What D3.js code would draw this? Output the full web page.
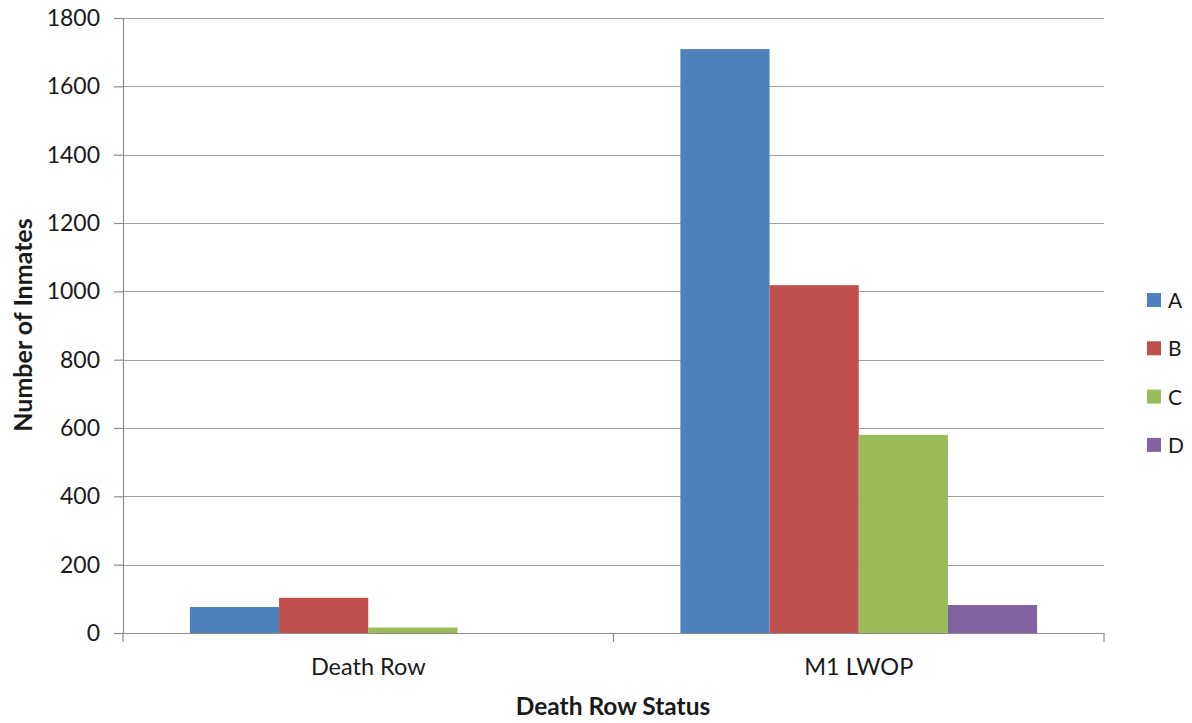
<!DOCTYPE html>
<html>
<head>
<meta charset="utf-8">
<script src="https://cdn.jsdelivr.net/npm/d3@7"></script>
<style>
  body { margin: 0; background: #fff; }
  text { font-family: Lato, "Open Sans", sans-serif; fill: #1a1a1a; }
</style>
</head>
<body>
<div id="chart"></div>
<script>
// data
var categories = ["Death Row", "M1 LWOP"];
var seriesNames = ["A", "B", "C", "D"];
var seriesColors = ["#4f81bd", "#c0504d", "#9bbb59", "#8064a2"];
var valuesA = [76, 1709];
var valuesB = [103, 1018];
var valuesC = [16, 580];
var valuesD = [0, 82];
var yTicks = [0, 200, 400, 600, 800, 1000, 1200, 1400, 1600, 1800];

var seriesValues = [valuesA, valuesB, valuesC, valuesD];

// dimensions
var margin = {top: 18, right: 88, bottom: 90, left: 123},
    width = 1192,
    height = 723,
    innerW = 1104 - margin.left,
    innerH = 633 - margin.top;

var svg = d3.select("#chart")
  .append("svg")
    .attr("width", width)
    .attr("height", height);

var g = svg.append("g")
    .attr("transform", `translate(${margin.left},${margin.top})`);

// scales
var x = d3.scaleBand()
  .domain(categories)
  .range([0, innerW])
  .paddingInner(0)
  .paddingOuter(0);

// 150% gap width: 4 bars + 1.5 bar of gap per category
var barW = x.bandwidth() / 5.5;
var x1 = d3.scaleBand()
  .domain(seriesNames)
  .range([barW * 0.75, barW * 4.75]);

var y = d3.scaleLinear()
  .domain([0, 1800])
  .range([innerH, 0]);

// gridlines
g.append("g")
  .selectAll("line")
  .data(yTicks)
  .join("line")
    .attr("x1", 0)
    .attr("x2", innerW)
    .attr("y1", d => Math.round(y(d)) + 0.5)
    .attr("y2", d => Math.round(y(d)) + 0.5)
    .attr("stroke", "#a0a0a0")
    .attr("stroke-width", 1.2);

// bars
var rows = [];
categories.forEach(function(c, i) {
  seriesNames.forEach(function(s, j) {
    rows.push({cat: c, series: s, value: seriesValues[j][i], color: seriesColors[j]});
  });
});

g.append("g")
  .selectAll("rect")
  .data(rows)
  .join("rect")
    .attr("x", d => x(d.cat) + x1(d.series))
    .attr("y", d => y(d.value))
    .attr("width", x1.bandwidth())
    .attr("height", d => innerH - y(d.value))
    .attr("fill", d => d.color);

// Y axis
var yAxis = g.append("g")
  .call(d3.axisLeft(y).tickValues(yTicks).tickFormat(d3.format("d"))
    .tickSize(9).tickSizeOuter(0).tickPadding(14));
yAxis.select(".domain").attr("stroke", "#8c8c8c").attr("stroke-width", 1.2);
yAxis.selectAll(".tick line").attr("stroke", "#8c8c8c").attr("stroke-width", 1.2);
yAxis.selectAll("text")
  .style("font-size", "23px")
  .style("font-family", "Lato, 'Open Sans', sans-serif")
  .attr("fill", "#1a1a1a");

// X axis
var xAxis = g.append("g")
  .attr("transform", `translate(0,${innerH})`)
  .call(d3.axisBottom(x).tickSize(0).tickPadding(25));
xAxis.select(".domain").attr("stroke", "#8c8c8c").attr("stroke-width", 1.2);
xAxis.selectAll("text")
  .style("font-size", "23.5px")
  .style("font-family", "Lato, 'Open Sans', sans-serif")
  .attr("fill", "#1a1a1a");

// category boundary ticks
g.append("g")
  .selectAll("line")
  .data([0, 1, 2])
  .join("line")
    .attr("x1", d => d * x.step())
    .attr("x2", d => d * x.step())
    .attr("y1", innerH)
    .attr("y2", innerH + 9)
    .attr("stroke", "#8c8c8c")
    .attr("stroke-width", 1.2);

// axis titles
svg.append("text")
  .attr("transform", "translate(32,325) rotate(-90)")
  .attr("text-anchor", "middle")
  .style("font-size", "25px")
  .style("font-weight", "bold")
  .text("Number of Inmates");

svg.append("text")
  .attr("x", 613)
  .attr("y", 715)
  .attr("text-anchor", "middle")
  .style("font-size", "24.5px")
  .style("font-weight", "bold")
  .text("Death Row Status");

// legend
var legend = svg.append("g")
  .selectAll("g")
  .data(seriesNames)
  .join("g")
    .attr("transform", (d, i) => `translate(1147,${300 + i * 48.3})`);

legend.append("rect")
  .attr("x", 0)
  .attr("y", -7)
  .attr("width", 14)
  .attr("height", 14)
  .attr("fill", (d, i) => seriesColors[i]);

legend.append("text")
  .attr("x", 21)
  .attr("y", 8)
  .style("font-size", "21px")
  .text(d => d);
</script>
</body>
</html>
